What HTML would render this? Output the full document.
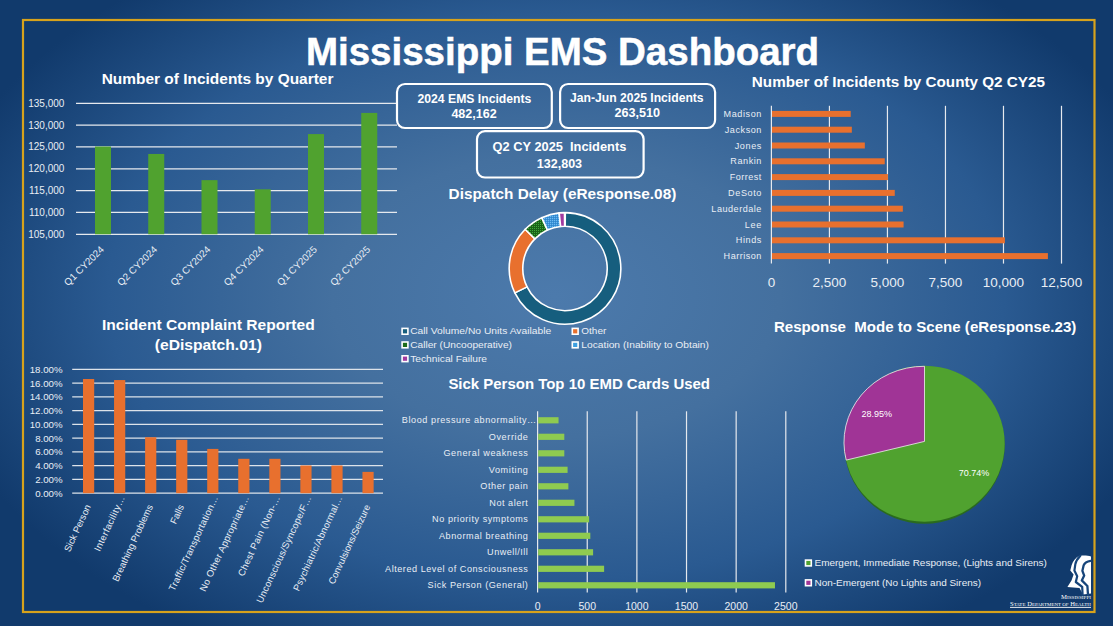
<!DOCTYPE html>
<html><head><meta charset="utf-8"><title>Mississippi EMS Dashboard</title>
<style>html,body{margin:0;padding:0;width:1113px;height:626px;overflow:hidden;background:#1c487d;}</style>
</head><body>
<svg width="1113" height="626" viewBox="0 0 1113 626" style="position:absolute;left:0;top:0;font-family:'Liberation Sans', sans-serif">
<defs>
<radialGradient id="bg" cx="556" cy="296" r="640" gradientUnits="userSpaceOnUse" gradientTransform="translate(556 296) scale(1 0.632) translate(-556 -296)">
<stop offset="0" stop-color="#4c7aac"/>
<stop offset="0.35" stop-color="#44709f"/>
<stop offset="0.7" stop-color="#2a5a91"/>
<stop offset="1" stop-color="#113a6c"/>
</radialGradient>
<pattern id="pg" x="0" y="0" width="2" height="2" patternUnits="userSpaceOnUse"><rect width="2" height="2" fill="#1a6418"/><rect x="0" y="0" width="1" height="1" fill="#3fa83a"/></pattern>
<pattern id="pb" x="0" y="0" width="2" height="2" patternUnits="userSpaceOnUse"><rect width="2" height="2" fill="#3a92d8"/><rect x="0" y="0" width="1" height="1" fill="#6cb8f0"/><rect x="1" y="1" width="1" height="1" fill="#2f86cc"/></pattern>
</defs>
<rect x="0" y="0" width="1113" height="626" fill="url(#bg)"/>
<rect x="23" y="20" width="1071.5" height="592" fill="none" stroke="#d7a21c" stroke-width="2.2"/>
<text x="306.00" y="65.10" font-size="38.3" font-weight="bold" text-anchor="start" fill="#ffffff" textLength="513.00" lengthAdjust="spacingAndGlyphs" stroke="#ffffff" stroke-width="0.5">Mississippi EMS Dashboard</text>
<text x="101.70" y="83.90" font-size="15" font-weight="bold" text-anchor="start" fill="#ffffff" textLength="231.80" lengthAdjust="spacingAndGlyphs" >Number of Incidents by Quarter</text>
<line x1="76" y1="103.30" x2="397" y2="103.30" stroke="#e6e9ee" stroke-width="1.3"/>
<text x="64.40" y="106.80" font-size="10" font-weight="normal" text-anchor="end" fill="#e9eef5" >135,000</text>
<line x1="76" y1="125.13" x2="397" y2="125.13" stroke="#e6e9ee" stroke-width="1.3"/>
<text x="64.40" y="128.63" font-size="10" font-weight="normal" text-anchor="end" fill="#e9eef5" >130,000</text>
<line x1="76" y1="146.96" x2="397" y2="146.96" stroke="#e6e9ee" stroke-width="1.3"/>
<text x="64.40" y="150.46" font-size="10" font-weight="normal" text-anchor="end" fill="#e9eef5" >125,000</text>
<line x1="76" y1="168.79" x2="397" y2="168.79" stroke="#e6e9ee" stroke-width="1.3"/>
<text x="64.40" y="172.29" font-size="10" font-weight="normal" text-anchor="end" fill="#e9eef5" >120,000</text>
<line x1="76" y1="190.62" x2="397" y2="190.62" stroke="#e6e9ee" stroke-width="1.3"/>
<text x="64.40" y="194.12" font-size="10" font-weight="normal" text-anchor="end" fill="#e9eef5" >115,000</text>
<line x1="76" y1="212.45" x2="397" y2="212.45" stroke="#e6e9ee" stroke-width="1.3"/>
<text x="64.40" y="215.95" font-size="10" font-weight="normal" text-anchor="end" fill="#e9eef5" >110,000</text>
<line x1="76" y1="234.28" x2="397" y2="234.28" stroke="#e6e9ee" stroke-width="1.3"/>
<text x="64.40" y="237.78" font-size="10" font-weight="normal" text-anchor="end" fill="#e9eef5" >105,000</text>
<rect x="95.00" y="146.52" width="16" height="87.76" fill="#50a22f"/>
<text x="104.60" y="250.00" font-size="9.9" text-anchor="end" fill="#e9eef5" transform="rotate(-45 104.60 250.00)">Q1 CY2024</text>
<rect x="148.25" y="153.95" width="16" height="80.33" fill="#50a22f"/>
<text x="157.85" y="250.00" font-size="9.9" text-anchor="end" fill="#e9eef5" transform="rotate(-45 157.85 250.00)">Q2 CY2024</text>
<rect x="201.50" y="180.14" width="16" height="54.14" fill="#50a22f"/>
<text x="211.10" y="250.00" font-size="9.9" text-anchor="end" fill="#e9eef5" transform="rotate(-45 211.10 250.00)">Q3 CY2024</text>
<rect x="254.75" y="189.31" width="16" height="44.97" fill="#50a22f"/>
<text x="264.35" y="250.00" font-size="9.9" text-anchor="end" fill="#e9eef5" transform="rotate(-45 264.35 250.00)">Q4 CY2024</text>
<rect x="308.00" y="134.08" width="16" height="100.20" fill="#50a22f"/>
<text x="317.60" y="250.00" font-size="9.9" text-anchor="end" fill="#e9eef5" transform="rotate(-45 317.60 250.00)">Q1 CY2025</text>
<rect x="361.25" y="112.91" width="16" height="121.37" fill="#50a22f"/>
<text x="370.85" y="250.00" font-size="9.9" text-anchor="end" fill="#e9eef5" transform="rotate(-45 370.85 250.00)">Q2 CY2025</text>
<rect x="397.00" y="84.00" width="154.80" height="44.00" rx="8" ry="8" fill="none" stroke="#ffffff" stroke-width="2.2"/>
<text x="417.50" y="102.90" font-size="12" font-weight="bold" text-anchor="start" fill="#ffffff" textLength="113.80" lengthAdjust="spacingAndGlyphs" >2024 EMS Incidents</text>
<text x="451.40" y="117.90" font-size="12" font-weight="bold" text-anchor="start" fill="#ffffff" textLength="45.30" lengthAdjust="spacingAndGlyphs" >482,162</text>
<rect x="560.10" y="84.00" width="155.00" height="44.00" rx="8" ry="8" fill="none" stroke="#ffffff" stroke-width="2.2"/>
<text x="570.00" y="101.90" font-size="12" font-weight="bold" text-anchor="start" fill="#ffffff" textLength="133.60" lengthAdjust="spacingAndGlyphs" >Jan-Jun 2025 Incidents</text>
<text x="614.40" y="117.00" font-size="12" font-weight="bold" text-anchor="start" fill="#ffffff" textLength="45.60" lengthAdjust="spacingAndGlyphs" >263,510</text>
<rect x="477.00" y="131.10" width="166.60" height="46.40" rx="8" ry="8" fill="none" stroke="#ffffff" stroke-width="2.2"/>
<text x="492.60" y="150.60" font-size="12" font-weight="bold" text-anchor="start" fill="#ffffff" textLength="133.70" lengthAdjust="spacingAndGlyphs" >Q2 CY 2025&#160; Incidents</text>
<text x="536.80" y="167.60" font-size="12" font-weight="bold" text-anchor="start" fill="#ffffff" textLength="45.30" lengthAdjust="spacingAndGlyphs" >132,803</text>
<text x="448.60" y="198.80" font-size="15" font-weight="bold" text-anchor="start" fill="#ffffff" textLength="227.70" lengthAdjust="spacingAndGlyphs" >Dispatch Delay (eResponse.08)</text>
<path d="M565.29,212.60 A55.8,55.8 0 1 1 514.85,292.86 L527.07,286.90 A42.2,42.2 0 1 0 565.22,226.20 Z" fill="#165e7e" stroke="#ffffff" stroke-width="1.6" stroke-linejoin="round"/>
<path d="M514.85,292.86 A55.8,55.8 0 0 1 525.20,229.29 L534.90,238.82 A42.2,42.2 0 0 0 527.07,286.90 Z" fill="#e8702e" stroke="#ffffff" stroke-width="1.6" stroke-linejoin="round"/>
<path d="M525.20,229.29 A55.8,55.8 0 0 1 541.77,217.66 L547.43,230.03 A42.2,42.2 0 0 0 534.90,238.82 Z" fill="url(#pg)" stroke="#ffffff" stroke-width="1.6" stroke-linejoin="round"/>
<path d="M541.77,217.66 A55.8,55.8 0 0 1 559.17,212.91 L560.59,226.43 A42.2,42.2 0 0 0 547.43,230.03 Z" fill="url(#pb)" stroke="#ffffff" stroke-width="1.6" stroke-linejoin="round"/>
<path d="M559.17,212.91 A55.8,55.8 0 0 1 564.51,212.60 L564.63,226.20 A42.2,42.2 0 0 0 560.59,226.43 Z" fill="#a23aa0" stroke="#ffffff" stroke-width="1.6" stroke-linejoin="round"/>
<rect x="402.10" y="328.40" width="5.8" height="5.8" fill="#165e7e" stroke="#ffffff" stroke-width="1.6"/>
<text x="410.20" y="334.40" font-size="9.1" font-weight="normal" text-anchor="start" fill="#e9eef5" textLength="141.00" lengthAdjust="spacingAndGlyphs" >Call Volume/No Units Available</text>
<rect x="572.30" y="328.40" width="5.8" height="5.8" fill="#e8702e" stroke="#ffffff" stroke-width="1.6"/>
<text x="581.30" y="334.40" font-size="9.1" font-weight="normal" text-anchor="start" fill="#e9eef5" textLength="25.00" lengthAdjust="spacingAndGlyphs" >Other</text>
<rect x="402.10" y="342.00" width="5.8" height="5.8" fill="#1d6b1a" stroke="#ffffff" stroke-width="1.6"/>
<text x="410.20" y="348.00" font-size="9.1" font-weight="normal" text-anchor="start" fill="#e9eef5" textLength="101.80" lengthAdjust="spacingAndGlyphs" >Caller (Uncooperative)</text>
<rect x="572.30" y="342.00" width="5.8" height="5.8" fill="#3d9fe0" stroke="#ffffff" stroke-width="1.6"/>
<text x="581.30" y="348.00" font-size="9.1" font-weight="normal" text-anchor="start" fill="#e9eef5" textLength="127.70" lengthAdjust="spacingAndGlyphs" >Location (Inability to Obtain)</text>
<rect x="402.10" y="355.80" width="5.8" height="5.8" fill="#a23aa0" stroke="#ffffff" stroke-width="1.6"/>
<text x="410.20" y="361.70" font-size="9.1" font-weight="normal" text-anchor="start" fill="#e9eef5" textLength="76.80" lengthAdjust="spacingAndGlyphs" >Technical Failure</text>
<text x="751.80" y="86.80" font-size="15" font-weight="bold" text-anchor="start" fill="#ffffff" textLength="293.20" lengthAdjust="spacingAndGlyphs" >Number of Incidents by County Q2 CY25</text>
<line x1="771.40" y1="105.8" x2="771.40" y2="263.6" stroke="#e6e9ee" stroke-width="1.2"/>
<text x="771.40" y="286.50" font-size="13.5" font-weight="normal" text-anchor="middle" fill="#e9eef5" >0</text>
<line x1="829.42" y1="105.8" x2="829.42" y2="263.6" stroke="#e6e9ee" stroke-width="1.2"/>
<text x="829.42" y="286.50" font-size="13.5" font-weight="normal" text-anchor="middle" fill="#e9eef5" >2,500</text>
<line x1="887.44" y1="105.8" x2="887.44" y2="263.6" stroke="#e6e9ee" stroke-width="1.2"/>
<text x="887.44" y="286.50" font-size="13.5" font-weight="normal" text-anchor="middle" fill="#e9eef5" >5,000</text>
<line x1="945.46" y1="105.8" x2="945.46" y2="263.6" stroke="#e6e9ee" stroke-width="1.2"/>
<text x="945.46" y="286.50" font-size="13.5" font-weight="normal" text-anchor="middle" fill="#e9eef5" >7,500</text>
<line x1="1003.48" y1="105.8" x2="1003.48" y2="263.6" stroke="#e6e9ee" stroke-width="1.2"/>
<text x="1003.48" y="286.50" font-size="13.5" font-weight="normal" text-anchor="middle" fill="#e9eef5" >10,000</text>
<line x1="1061.50" y1="105.8" x2="1061.50" y2="263.6" stroke="#e6e9ee" stroke-width="1.2"/>
<text x="1061.50" y="286.50" font-size="13.5" font-weight="normal" text-anchor="middle" fill="#e9eef5" >12,500</text>
<rect x="772.00" y="110.90" width="78.72" height="6" fill="#e8702e"/>
<text x="761.4" y="117.00" font-size="9.1" text-anchor="end" fill="#e9eef5" textLength="37.80" lengthAdjust="spacing">Madison</text>
<rect x="772.00" y="126.70" width="79.84" height="6" fill="#e8702e"/>
<text x="761.4" y="132.80" font-size="9.1" text-anchor="end" fill="#e9eef5" textLength="36.68" lengthAdjust="spacing">Jackson</text>
<rect x="772.00" y="142.50" width="92.83" height="6" fill="#e8702e"/>
<text x="761.4" y="148.60" font-size="9.1" text-anchor="end" fill="#e9eef5" textLength="26.68" lengthAdjust="spacing">Jones</text>
<rect x="772.00" y="158.30" width="112.74" height="6" fill="#e8702e"/>
<text x="761.4" y="164.40" font-size="9.1" text-anchor="end" fill="#e9eef5" textLength="31.13" lengthAdjust="spacing">Rankin</text>
<rect x="772.00" y="174.10" width="115.92" height="6" fill="#e8702e"/>
<text x="761.4" y="180.20" font-size="9.1" text-anchor="end" fill="#e9eef5" textLength="31.67" lengthAdjust="spacing">Forrest</text>
<rect x="772.00" y="189.90" width="122.77" height="6" fill="#e8702e"/>
<text x="761.4" y="196.00" font-size="9.1" text-anchor="end" fill="#e9eef5" textLength="33.35" lengthAdjust="spacing">DeSoto</text>
<rect x="772.00" y="205.70" width="130.85" height="6" fill="#e8702e"/>
<text x="761.4" y="211.80" font-size="9.1" text-anchor="end" fill="#e9eef5" textLength="50.04" lengthAdjust="spacing">Lauderdale</text>
<rect x="772.00" y="221.50" width="131.59" height="6" fill="#e8702e"/>
<text x="761.4" y="227.60" font-size="9.1" text-anchor="end" fill="#e9eef5" textLength="16.68" lengthAdjust="spacing">Lee</text>
<rect x="772.00" y="237.30" width="232.87" height="6" fill="#e8702e"/>
<text x="761.4" y="243.40" font-size="9.1" text-anchor="end" fill="#e9eef5" textLength="25.57" lengthAdjust="spacing">Hinds</text>
<rect x="772.00" y="253.10" width="275.90" height="6" fill="#e8702e"/>
<text x="761.4" y="259.20" font-size="9.1" text-anchor="end" fill="#e9eef5" textLength="37.79" lengthAdjust="spacing">Harrison</text>
<text x="208.30" y="330.00" font-size="15" font-weight="bold" text-anchor="middle" fill="#ffffff" textLength="212.80" lengthAdjust="spacingAndGlyphs" >Incident Complaint Reported</text>
<text x="208.30" y="349.90" font-size="15" font-weight="bold" text-anchor="middle" fill="#ffffff" textLength="107.20" lengthAdjust="spacingAndGlyphs" >(eDispatch.01)</text>
<line x1="72.2" y1="369.40" x2="383" y2="369.40" stroke="#dde3ea" stroke-width="1.2"/>
<text x="62.60" y="372.80" font-size="9.7" font-weight="normal" text-anchor="end" fill="#e9eef5" >18.00%</text>
<line x1="72.2" y1="383.16" x2="383" y2="383.16" stroke="#dde3ea" stroke-width="1.2"/>
<text x="62.60" y="386.56" font-size="9.7" font-weight="normal" text-anchor="end" fill="#e9eef5" >16.00%</text>
<line x1="72.2" y1="396.91" x2="383" y2="396.91" stroke="#dde3ea" stroke-width="1.2"/>
<text x="62.60" y="400.31" font-size="9.7" font-weight="normal" text-anchor="end" fill="#e9eef5" >14.00%</text>
<line x1="72.2" y1="410.67" x2="383" y2="410.67" stroke="#dde3ea" stroke-width="1.2"/>
<text x="62.60" y="414.07" font-size="9.7" font-weight="normal" text-anchor="end" fill="#e9eef5" >12.00%</text>
<line x1="72.2" y1="424.42" x2="383" y2="424.42" stroke="#dde3ea" stroke-width="1.2"/>
<text x="62.60" y="427.82" font-size="9.7" font-weight="normal" text-anchor="end" fill="#e9eef5" >10.00%</text>
<line x1="72.2" y1="438.18" x2="383" y2="438.18" stroke="#dde3ea" stroke-width="1.2"/>
<text x="62.60" y="441.58" font-size="9.7" font-weight="normal" text-anchor="end" fill="#e9eef5" >8.00%</text>
<line x1="72.2" y1="451.94" x2="383" y2="451.94" stroke="#dde3ea" stroke-width="1.2"/>
<text x="62.60" y="455.34" font-size="9.7" font-weight="normal" text-anchor="end" fill="#e9eef5" >6.00%</text>
<line x1="72.2" y1="465.69" x2="383" y2="465.69" stroke="#dde3ea" stroke-width="1.2"/>
<text x="62.60" y="469.09" font-size="9.7" font-weight="normal" text-anchor="end" fill="#e9eef5" >4.00%</text>
<line x1="72.2" y1="479.45" x2="383" y2="479.45" stroke="#dde3ea" stroke-width="1.2"/>
<text x="62.60" y="482.85" font-size="9.7" font-weight="normal" text-anchor="end" fill="#e9eef5" >2.00%</text>
<line x1="72.2" y1="493.20" x2="383" y2="493.20" stroke="#dde3ea" stroke-width="1.2"/>
<text x="62.60" y="496.60" font-size="9.7" font-weight="normal" text-anchor="end" fill="#e9eef5" >0.00%</text>
<rect x="83.00" y="379.03" width="11.2" height="114.17" fill="#e8702e"/>
<text x="91.10" y="506.50" font-size="9.5" text-anchor="end" fill="#e9eef5" transform="rotate(-65 91.10 506.50)">Sick Person</text>
<rect x="114.05" y="380.06" width="11.2" height="113.14" fill="#e8702e"/>
<text x="125.15" y="497.70" font-size="9.5" textLength="59.90" lengthAdjust="spacing" text-anchor="end" fill="#e9eef5" transform="rotate(-65 125.15 497.70)">Interfacility…</text>
<rect x="145.10" y="437.22" width="11.2" height="55.99" fill="#e8702e"/>
<text x="153.20" y="506.50" font-size="9.5" text-anchor="end" fill="#e9eef5" transform="rotate(-65 153.20 506.50)">Breathing Problems</text>
<rect x="176.15" y="439.83" width="11.2" height="53.37" fill="#e8702e"/>
<text x="184.25" y="506.50" font-size="9.5" text-anchor="end" fill="#e9eef5" transform="rotate(-65 184.25 506.50)">Falls</text>
<rect x="207.20" y="448.91" width="11.2" height="44.29" fill="#e8702e"/>
<text x="218.30" y="497.70" font-size="9.5" textLength="103.90" lengthAdjust="spacing" text-anchor="end" fill="#e9eef5" transform="rotate(-65 218.30 497.70)">Traffic/Transportation…</text>
<rect x="238.25" y="458.81" width="11.2" height="34.39" fill="#e8702e"/>
<text x="249.35" y="497.70" font-size="9.5" textLength="104.27" lengthAdjust="spacing" text-anchor="end" fill="#e9eef5" transform="rotate(-65 249.35 497.70)">No Other Appropriate…</text>
<rect x="269.30" y="458.81" width="11.2" height="34.39" fill="#e8702e"/>
<text x="280.40" y="497.70" font-size="9.5" textLength="87.36" lengthAdjust="spacing" text-anchor="end" fill="#e9eef5" transform="rotate(-65 280.40 497.70)">Chest Pain (Non-…</text>
<rect x="300.35" y="465.49" width="11.2" height="27.72" fill="#e8702e"/>
<text x="311.45" y="497.70" font-size="9.5" textLength="116.94" lengthAdjust="spacing" text-anchor="end" fill="#e9eef5" transform="rotate(-65 311.45 497.70)">Unconscious/Syncope/F…</text>
<rect x="331.40" y="465.49" width="11.2" height="27.72" fill="#e8702e"/>
<text x="342.50" y="497.70" font-size="9.5" textLength="103.72" lengthAdjust="spacing" text-anchor="end" fill="#e9eef5" transform="rotate(-65 342.50 497.70)">Psychiatric/Abnormal…</text>
<rect x="362.45" y="471.88" width="11.2" height="21.32" fill="#e8702e"/>
<text x="370.55" y="506.50" font-size="9.5" text-anchor="end" fill="#e9eef5" transform="rotate(-65 370.55 506.50)">Convulsions/Seizure</text>
<text x="448.40" y="388.60" font-size="15" font-weight="bold" text-anchor="start" fill="#ffffff" textLength="261.60" lengthAdjust="spacingAndGlyphs" >Sick Person Top 10 EMD Cards Used</text>
<line x1="537.60" y1="411.3" x2="537.60" y2="592.5" stroke="#e6e9ee" stroke-width="1.2"/>
<text x="537.60" y="610.00" font-size="10.5" font-weight="normal" text-anchor="middle" fill="#e9eef5" >0</text>
<line x1="587.24" y1="411.3" x2="587.24" y2="592.5" stroke="#e6e9ee" stroke-width="1.2"/>
<text x="587.24" y="610.00" font-size="10.5" font-weight="normal" text-anchor="middle" fill="#e9eef5" >500</text>
<line x1="636.88" y1="411.3" x2="636.88" y2="592.5" stroke="#e6e9ee" stroke-width="1.2"/>
<text x="636.88" y="610.00" font-size="10.5" font-weight="normal" text-anchor="middle" fill="#e9eef5" >1000</text>
<line x1="686.52" y1="411.3" x2="686.52" y2="592.5" stroke="#e6e9ee" stroke-width="1.2"/>
<text x="686.52" y="610.00" font-size="10.5" font-weight="normal" text-anchor="middle" fill="#e9eef5" >1500</text>
<line x1="736.16" y1="411.3" x2="736.16" y2="592.5" stroke="#e6e9ee" stroke-width="1.2"/>
<text x="736.16" y="610.00" font-size="10.5" font-weight="normal" text-anchor="middle" fill="#e9eef5" >2000</text>
<line x1="785.80" y1="411.3" x2="785.80" y2="592.5" stroke="#e6e9ee" stroke-width="1.2"/>
<text x="785.80" y="610.00" font-size="10.5" font-weight="normal" text-anchor="middle" fill="#e9eef5" >2500</text>
<rect x="538.20" y="417.20" width="20.35" height="6.2" fill="#8fcb50"/>
<text x="536.2" y="423.40" font-size="9.1" text-anchor="end" fill="#e9eef5" textLength="134.35" lengthAdjust="spacing">Blood pressure abnormality…</text>
<rect x="538.20" y="433.70" width="26.11" height="6.2" fill="#8fcb50"/>
<text x="527.9" y="439.90" font-size="9.1" text-anchor="end" fill="#e9eef5" textLength="39.11" lengthAdjust="spacing">Override</text>
<rect x="538.20" y="450.20" width="26.11" height="6.2" fill="#8fcb50"/>
<text x="527.9" y="456.40" font-size="9.1" text-anchor="end" fill="#e9eef5" textLength="84.47" lengthAdjust="spacing">General weakness</text>
<rect x="538.20" y="466.70" width="29.39" height="6.2" fill="#8fcb50"/>
<text x="527.9" y="472.90" font-size="9.1" text-anchor="end" fill="#e9eef5" textLength="39.12" lengthAdjust="spacing">Vomiting</text>
<rect x="538.20" y="483.20" width="30.18" height="6.2" fill="#8fcb50"/>
<text x="527.9" y="489.40" font-size="9.1" text-anchor="end" fill="#e9eef5" textLength="47.62" lengthAdjust="spacing">Other pain</text>
<rect x="538.20" y="499.70" width="36.24" height="6.2" fill="#8fcb50"/>
<text x="527.9" y="505.90" font-size="9.1" text-anchor="end" fill="#e9eef5" textLength="38.55" lengthAdjust="spacing">Not alert</text>
<rect x="538.20" y="516.20" width="50.93" height="6.2" fill="#8fcb50"/>
<text x="527.9" y="522.40" font-size="9.1" text-anchor="end" fill="#e9eef5" textLength="95.78" lengthAdjust="spacing">No priority symptoms</text>
<rect x="538.20" y="532.70" width="52.12" height="6.2" fill="#8fcb50"/>
<text x="527.9" y="538.90" font-size="9.1" text-anchor="end" fill="#e9eef5" textLength="89.01" lengthAdjust="spacing">Abnormal breathing</text>
<rect x="538.20" y="549.20" width="54.90" height="6.2" fill="#8fcb50"/>
<text x="527.9" y="555.40" font-size="9.1" text-anchor="end" fill="#e9eef5" textLength="40.81" lengthAdjust="spacing">Unwell/Ill</text>
<rect x="538.20" y="565.70" width="65.92" height="6.2" fill="#8fcb50"/>
<text x="527.9" y="571.90" font-size="9.1" text-anchor="end" fill="#e9eef5" textLength="142.87" lengthAdjust="spacing">Altered Level of Consciousness</text>
<rect x="538.20" y="582.20" width="236.78" height="6.2" fill="#8fcb50"/>
<text x="527.9" y="588.40" font-size="9.1" text-anchor="end" fill="#e9eef5" textLength="100.33" lengthAdjust="spacing">Sick Person (General)</text>
<text x="773.90" y="331.80" font-size="15" font-weight="bold" text-anchor="start" fill="#ffffff" textLength="302.40" lengthAdjust="spacingAndGlyphs" >Response&#160; Mode to Scene (eResponse.23)</text>
<ellipse cx="924.5" cy="445" rx="80.2" ry="78.8" fill="#2a6b1e"/>
<ellipse cx="924.5" cy="443.8" rx="80.2" ry="78" fill="#50a22f"/>
<path d="M924.5,441.4 L924.5,366.3 A80,76 0 0 0 846.2,460.1 Z" fill="#a03496" stroke="#f0f0f0" stroke-width="0.8"/>
<text x="876.70" y="417.20" font-size="9" font-weight="normal" text-anchor="middle" fill="#ffffff" >28.95%</text>
<text x="974.00" y="476.40" font-size="9" font-weight="normal" text-anchor="middle" fill="#ffffff" >70.74%</text>
<rect x="805.50" y="560.10" width="5.8" height="5.8" fill="#50a22f" stroke="#ffffff" stroke-width="1.6"/>
<text x="814.50" y="566.40" font-size="9.1" font-weight="normal" text-anchor="start" fill="#e9eef5" textLength="232.40" lengthAdjust="spacingAndGlyphs" >Emergent, Immediate Response, (Lights and Sirens)</text>
<rect x="805.50" y="579.90" width="5.8" height="5.8" fill="#a03496" stroke="#ffffff" stroke-width="1.6"/>
<text x="814.50" y="586.20" font-size="9.1" font-weight="normal" text-anchor="start" fill="#e9eef5" textLength="166.50" lengthAdjust="spacingAndGlyphs" >Non-Emergent (No Lights and Sirens)</text>
<path fill="#ffffff" d="M1079.2,555.8 C1083,555.2 1088,555.4 1091,556.4 L1091,593.6 L1083,594.6 L1079.5,588 L1067.4,587 L1071.5,580.5 L1073.6,574.6 L1070.3,570.6 L1071.6,565.2 C1073,561 1075.5,558 1079.2,555.8 Z"/>
<path fill="none" stroke="#17457a" stroke-width="2.2" stroke-linejoin="round" stroke-linecap="round" d="M1080.4,555.6 C1077.5,558.5 1075.8,561.5 1075.3,564.4 L1074.4,570.6 L1077.2,576.2 L1075.8,582 L1082.2,586.8 L1082.6,595"/>
<path fill="none" stroke="#17457a" stroke-width="2.3" stroke-linejoin="round" stroke-linecap="round" d="M1090.6,560.8 C1087.5,561.2 1084.6,562.8 1083.6,565.4 L1082.4,570.8 L1084.2,575.6 L1081.8,580.4 L1087.4,586 L1088,595"/>
<text x="1091" y="599.4" font-size="5.6" text-anchor="end" fill="#fff" font-family="Liberation Serif" textLength="30" lengthAdjust="spacingAndGlyphs">M<tspan font-size="4.3">ISSISSIPPI</tspan></text>
<text x="1091" y="605.6" font-size="6.6" text-anchor="end" fill="#fff" font-family="Liberation Serif" textLength="81" lengthAdjust="spacingAndGlyphs">S<tspan font-size="5">TATE</tspan> D<tspan font-size="5">EPARTMENT OF</tspan> H<tspan font-size="5">EALTH</tspan></text>
<line x1="1010" y1="607.4" x2="1091" y2="607.4" stroke="#fff" stroke-width="0.9"/>
</svg>
</body></html>
